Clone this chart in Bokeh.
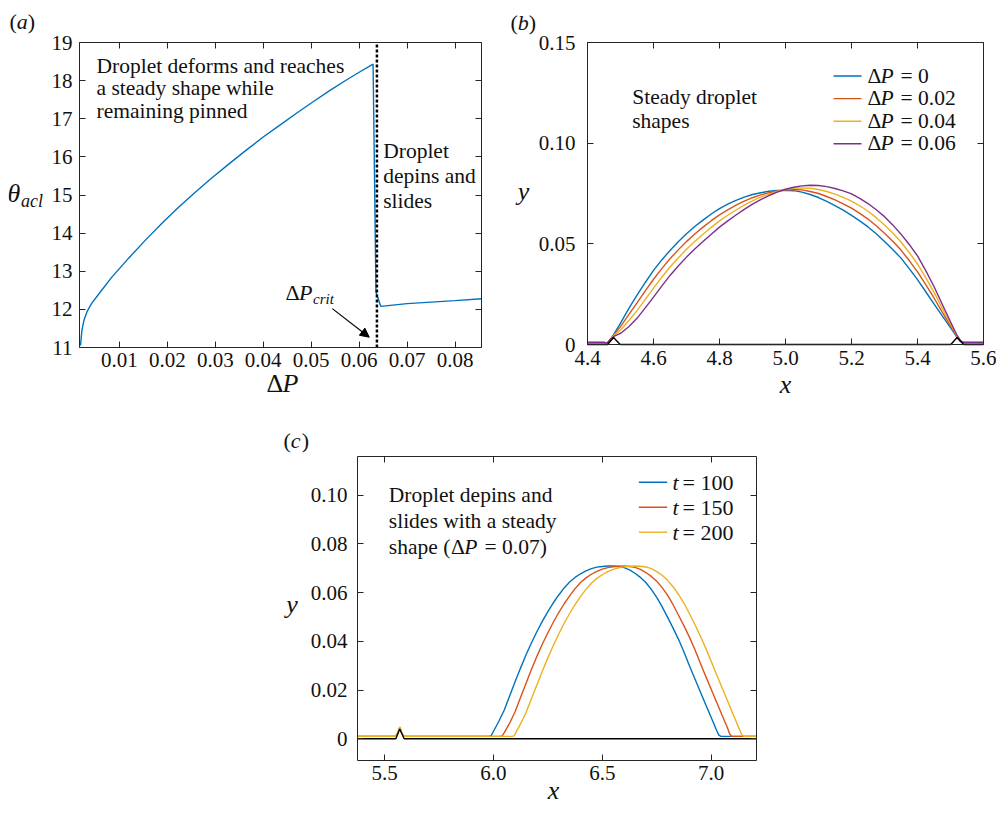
from bokeh.plotting import figure
from bokeh.models import (Range1d, LinearAxis, FixedTicker, Label, Arrow,
                          NormalHead, Spacer, BoxAnnotation)
from bokeh.layouts import row, column
from bokeh.embed import file_html
from bokeh.resources import INLINE

# ---------------- data ----------------
# panel (a): contact angle vs pressure difference
dp_a = [0.0019, 0.0022, 0.0026, 0.0033, 0.0042, 0.0060, 0.0084, 0.0120, 0.0154,
        0.0190, 0.0223, 0.0260, 0.0292, 0.0330, 0.0362, 0.0400, 0.0431, 0.0470,
        0.0501, 0.0540, 0.0570, 0.0600, 0.0629, 0.0635, 0.0645, 0.0700, 0.0800, 0.0855]
theta_a = [11.05, 11.45, 11.70, 11.95, 12.15, 12.45, 12.84, 13.35, 13.81,
           14.27, 14.67, 15.09, 15.44, 15.83, 16.15, 16.52, 16.80, 17.15,
           17.42, 17.75, 17.99, 18.22, 18.43, 12.45, 12.08, 12.15, 12.23, 12.28]
dp_crit = 0.0637
crit_arrow_start = (0.0544, 12.02)
crit_arrow_end = (0.0621, 11.27)
a_xrange = (0.0017, 0.0855)
a_yrange = (11, 19)
a_xticks = [0.01, 0.02, 0.03, 0.04, 0.05, 0.06, 0.07, 0.08]
a_xlabels = ["0.01", "0.02", "0.03", "0.04", "0.05", "0.06", "0.07", "0.08"]
a_yticks = [11, 12, 13, 14, 15, 16, 17, 18, 19]
a_ylabels = ["11", "12", "13", "14", "15", "16", "17", "18", "19"]

# panel (b): steady droplet shapes
x_b = [4.40, 4.45, 4.46, 4.47, 4.48, 4.50,
       4.525, 4.55, 4.575, 4.60, 4.625, 4.65, 4.675, 4.70, 4.725, 4.75,
       4.775, 4.80, 4.825, 4.85, 4.875, 4.90, 4.925, 4.95, 4.975, 5.00,
       5.025, 5.05, 5.075, 5.10, 5.125, 5.15, 5.175, 5.20, 5.225, 5.25,
       5.275, 5.30, 5.325, 5.35, 5.375, 5.40, 5.425, 5.45, 5.475, 5.50,
       5.52, 5.53, 5.54, 5.60]
y_b_dp0 = [.0010, .0010, .0008, .0025, .0052, .0106,
           .0178, .0245, .0308, .0368, .0420, .0467, .0510, .0550, .0586, .0618,
           .0648, .0675, .0697, .0716, .0732, .0745, .0754, .0761, .0765, .0766,
           .0764, .0757, .0745, .0730, .0711, .0690, .0667, .0641, .0614, .0584,
           .0550, .0512, .0472, .0429, .0377, .0322, .0262, .0202, .0142, .0084,
           .0036, .0015, .0010, .0010]
y_b_dp002 = [.0010, .0010, .0008, .0026, .0048, .0089,
             .0148, .0207, .0266, .0324, .0377, .0426, .0470, .0511, .0549, .0583,
             .0615, .0644, .0669, .0692, .0712, .0729, .0743, .0754, .0762, .0768,
             .0770, .0768, .0760, .0750, .0735, .0718, .0699, .0677, .0651, .0623,
             .0590, .0553, .0513, .0469, .0417, .0361, .0297, .0231, .0161, .0094,
             .0039, .0017, .0010, .0010]
y_b_dp004 = [.0010, .0010, .0008, .0027, .0044, .0072,
             .0118, .0168, .0224, .0280, .0334, .0385, .0430, .0473, .0512, .0548,
             .0582, .0614, .0642, .0668, .0692, .0713, .0732, .0747, .0760, .0770,
             .0776, .0778, .0776, .0770, .0760, .0747, .0731, .0712, .0689, .0662,
             .0630, .0594, .0554, .0509, .0457, .0400, .0332, .0260, .0181, .0103,
             .0042, .0018, .0010, .0010]
y_b_dp006 = [.0010, .0010, .0008, .0028, .0040, .0055,
             .0088, .0130, .0182, .0235, .0290, .0343, .0390, .0434, .0474, .0512,
             .0548, .0583, .0614, .0643, .0671, .0697, .0720, .0740, .0757, .0771,
             .0781, .0788, .0791, .0790, .0784, .0775, .0763, .0748, .0726, .0700,
             .0669, .0635, .0594, .0548, .0497, .0440, .0367, .0288, .0200, .0113,
             .0045, .0020, .0010, .0010]
b_labels = ["0", "0.02", "0.04", "0.06"]
sub_x_b = [4.40, 4.461, 4.479, 4.499, 5.501, 5.520, 5.540, 5.60]
sub_y_b = [0, 0, 0.0035, 0, 0, 0.0035, 0, 0]
b_xrange = (4.4, 5.6)
b_yrange = (0, 0.15)
b_xticks = [4.4, 4.6, 4.8, 5.0, 5.2, 5.4, 5.6]
b_xlabels = ["4.4", "4.6", "4.8", "5.0", "5.2", "5.4", "5.6"]
b_yticks = [0, 0.05, 0.1, 0.15]
b_ylabels = ["0", "0.05", "0.10", "0.15"]

# panel (c): sliding droplet at three times
x_c_t100 = [5.375, 5.55, 5.56, 5.57, 5.58, 5.59, 5.98,
            5.99, 6.00, 6.025, 6.05, 6.075, 6.10, 6.125, 6.15, 6.175, 6.20,
            6.225, 6.25, 6.275, 6.30, 6.325, 6.35, 6.375, 6.40, 6.425, 6.45,
            6.475, 6.50, 6.525, 6.55, 6.575, 6.60, 6.625, 6.65, 6.675, 6.70,
            6.725, 6.75, 6.775, 6.80, 6.825, 6.85, 6.875, 6.90, 6.925, 6.95,
            6.975, 7.00, 7.025, 7.035, 7.045, 7.21]
y_c_t100 = [.0010, .0010, .0022, .0045, .0022, .0010, .0010,
            .0013, .0030, .0072, .0118, .0177, .0235, .0291, .0345, .0394, .0440,
            .0483, .0522, .0558, .0590, .0619, .0643, .0662, .0677, .0689, .0698,
            .0704, .0707, .0709, .0709, .0707, .0702, .0693, .0679, .0662, .0641,
            .0613, .0580, .0541, .0498, .0454, .0408, .0356, .0300, .0246, .0193,
            .0140, .0087, .0034, .0015, .0010, .0010]
x_c_t150 = [5.375, 5.55, 5.56, 5.57, 5.58, 5.59, 6.03,
            6.04, 6.05, 6.075, 6.10, 6.125, 6.15, 6.175, 6.20, 6.225, 6.25,
            6.275, 6.30, 6.325, 6.35, 6.375, 6.40, 6.425, 6.45, 6.475, 6.50,
            6.525, 6.55, 6.575, 6.60, 6.625, 6.65, 6.675, 6.70, 6.725, 6.75,
            6.775, 6.80, 6.825, 6.85, 6.875, 6.90, 6.925, 6.95, 6.975, 7.00,
            7.025, 7.05, 7.075, 7.085, 7.095, 7.21]
y_c_t150 = [.0010, .0010, .0022, .0046, .0022, .0010, .0010,
            .0012, .0025, .0065, .0112, .0170, .0228, .0285, .0339, .0389, .0435,
            .0478, .0518, .0554, .0586, .0616, .0641, .0660, .0675, .0687, .0696,
            .0702, .0706, .0708, .0709, .0707, .0703, .0695, .0682, .0666, .0646,
            .0620, .0588, .0550, .0507, .0463, .0417, .0366, .0311, .0256, .0203,
            .0150, .0097, .0044, .0020, .0010, .0010]
x_c_t200 = [5.375, 5.55, 5.56, 5.57, 5.58, 5.59, 6.085,
            6.095, 6.10, 6.125, 6.15, 6.175, 6.20, 6.225, 6.25, 6.275, 6.30,
            6.325, 6.35, 6.375, 6.40, 6.425, 6.45, 6.475, 6.50, 6.525, 6.55,
            6.575, 6.60, 6.625, 6.65, 6.675, 6.70, 6.725, 6.75, 6.775, 6.80,
            6.825, 6.85, 6.875, 6.90, 6.925, 6.95, 6.975, 7.00, 7.025, 7.05,
            7.075, 7.10, 7.125, 7.14, 7.15, 7.21]
y_c_t200 = [.0010, .0010, .0024, .0050, .0024, .0010, .0010,
            .0012, .0020, .0062, .0108, .0165, .0222, .0278, .0332, .0383, .0430,
            .0474, .0514, .0550, .0583, .0613, .0638, .0658, .0673, .0686, .0695,
            .0701, .0706, .0708, .0709, .0708, .0705, .0698, .0686, .0671, .0650,
            .0624, .0592, .0556, .0514, .0469, .0422, .0372, .0318, .0263, .0209,
            .0156, .0102, .0049, .0018, .0010, .0010]
c_labels = ["100", "150", "200"]
sub_x_c = [5.375, 5.552, 5.570, 5.590, 7.21]
sub_y_c = [0, 0, 0.0040, 0, 0]
c_xrange = (5.376, 7.208)
c_yrange = (-0.0089, 0.1158)
c_xticks = [5.5, 6.0, 6.5, 7.0]
c_xlabels = ["5.5", "6.0", "6.5", "7.0"]
c_yticks = [0, 0.02, 0.04, 0.06, 0.08, 0.1]
c_ylabels = ["0", "0.02", "0.04", "0.06", "0.08", "0.10"]

# ---------------- style ----------------
SERIF = "Liberation Serif"
AX = "#262626"
TXT = "#111111"
BLUE, RED, YELLOW, PURPLE = "#0072BD", "#D95319", "#EDB120", "#7E2F8E"
LW = 1.4
BASELINE_FIX = 0.30   # em; the alphabetic baseline lands this much lower than asked


def style_axis(ax, ticks, labels, standoff, loc):
    ax.fixed_location = loc
    ax.ticker = FixedTicker(ticks=ticks)
    ax.major_label_overrides = {t: l for t, l in zip(ticks, labels)}
    ax.major_tick_in = 6
    ax.major_tick_out = 0
    ax.minor_tick_line_color = None
    ax.axis_line_color = None
    ax.major_tick_line_color = AX
    ax.major_label_text_font = SERIF
    ax.major_label_text_font_size = "21px"
    ax.major_label_text_color = TXT
    ax.major_label_standoff = standoff


def mirror(p, ticks, side, loc):
    ax = LinearAxis(ticker=FixedTicker(ticks=ticks), major_tick_in=6, major_tick_out=0,
                    minor_tick_line_color=None, major_label_text_font_size="0px",
                    major_label_text_color=None, major_label_standoff=0,
                    axis_line_color=None, major_tick_line_color=AX, fixed_location=loc)
    p.add_layout(ax, side)


class Panel:
    """A figure whose whole canvas is the frame; the axes box sits at pixel box."""

    def __init__(self, width, height, box, xr, yr, xt, xl, yt, yl, xstand, ystand):
        L, R, T, B = box
        self.L, self.H, self.B = L, height, B
        sx = (xr[1] - xr[0]) / (R - L)
        sy = (yr[1] - yr[0]) / (B - T)
        x_range = Range1d(xr[0] - L * sx, xr[1] + (width - R) * sx)
        y_range = Range1d(yr[0] - (height - B) * sy, yr[1] + T * sy)
        p = figure(width=width, height=height, x_range=x_range, y_range=y_range,
                   output_backend="svg", toolbar_location=None, title=None,
                   min_border=0, min_border_left=0, min_border_right=0,
                   min_border_top=0, min_border_bottom=0)
        p.xgrid.visible = False
        p.ygrid.visible = False
        p.outline_line_color = None
        p.background_fill_color = "white"
        p.border_fill_color = "white"
        style_axis(p.xaxis[0], xt, xl, xstand, yr[0])
        style_axis(p.yaxis[0], yt, yl, ystand, xr[0])
        mirror(p, yt, "right", xr[1])
        mirror(p, xt, "above", yr[1])
        p.add_layout(BoxAnnotation(left=xr[0], right=xr[1], bottom=yr[0], top=yr[1],
                                   fill_color=None, line_color=AX, line_width=1,
                                   line_alpha=1))
        self.p = p

    def txt(self, x, y, s, size="21.5px", style="normal", align="left"):
        # x, y in pixels relative to the bottom-left corner of the axes box
        fix = BASELINE_FIX * float(size[:-2])
        self.p.add_layout(Label(x=self.L + x, y=(self.H - self.B) + y + fix,
                                x_units="screen", y_units="screen", text=s,
                                text_font=SERIF, text_font_size=size,
                                text_font_style=style, text_align=align,
                                text_baseline="alphabetic", text_color=TXT))

    def legend_line(self, x0, x1, y, color):
        ox, oy = self.L, self.H - self.B
        self.p.add_layout(Arrow(start=None, end=None, x_start=ox + x0, y_start=oy + y,
                                x_end=ox + x1, y_end=oy + y,
                                start_units="screen", end_units="screen",
                                line_color=color, line_width=LW))

    def tag(self, x, y, letter):
        self.txt(x, y, "(", size="22px")
        self.txt(x + 7.3, y, letter, size="22px", style="italic")
        self.txt(x + 7.3 + 11, y, ")", size="22px")


# ---------------- panel (a) ----------------
A = Panel(492, 392, (71, 473, 34, 339), a_xrange, a_yrange,
          a_xticks, a_xlabels, a_yticks, a_ylabels, 5, 7)
pa = A.p
pa.line(dp_a, theta_a, line_color=BLUE, line_width=LW)
pa.segment(x0=[dp_crit], y0=[a_yrange[0]], x1=[dp_crit], y1=[a_yrange[1]],
           line_color="black", line_width=2.5, line_dash="3 2")
pa.add_layout(Arrow(end=NormalHead(size=9, fill_color="black", line_color="black"),
                    x_start=crit_arrow_start[0], y_start=crit_arrow_start[1],
                    x_end=crit_arrow_end[0], y_end=crit_arrow_end[1],
                    line_color="black", line_width=1.2))
A.tag(-70, 319, "a")
A.txt(-72, 146, "θ", size="26px", style="italic")
A.txt(-58.5, 141, "acl", size="18px", style="italic")
A.txt(187, -44, "Δ", size="26px")
A.txt(203, -44, "P", size="26px", style="italic")
for i, line in enumerate(["Droplet deforms and reaches", "a steady shape while",
                          "remaining pinned"]):
    A.txt(17, 275.3 - 22.5 * i, line)
for i, line in enumerate(["Droplet", "depins and", "slides"]):
    A.txt(303.7, 190.3 - 25 * i, line)
A.txt(206, 48.7, "Δ", size="22px")
A.txt(219.5, 48.7, "P", size="22px", style="italic")
A.txt(233.5, 44, "crit", size="15px", style="italic")

# ---------------- panel (b) ----------------
Bp = Panel(496, 392, (87, 483, 34, 336), b_xrange, b_yrange,
           b_xticks, b_xlabels, b_yticks, b_ylabels, 6, 12)
pb = Bp.p
b_series = [y_b_dp0, y_b_dp002, y_b_dp004, y_b_dp006]
b_colors = [BLUE, RED, YELLOW, PURPLE]
for ys, c in zip(b_series, b_colors):
    pb.line(x_b, ys, line_color=c, line_width=LW)
pb.line(sub_x_b, sub_y_b, line_color="black", line_width=LW)
Bp.tag(-77, 315.7, "b")
Bp.txt(-64, 145, "y", size="26px", style="italic", align="center")
Bp.txt(198, -48, "x", size="26px", style="italic", align="center")
Bp.txt(44.7, 240.7, "Steady droplet")
Bp.txt(44.7, 217.3, "shapes")
for i, (lab, c) in enumerate(zip(b_labels, b_colors)):
    yc = 268.5 - 22.6 * i
    Bp.legend_line(246, 274, yc, c)
    Bp.txt(280, yc - 6, "Δ")
    Bp.txt(293, yc - 6, "P", style="italic")
    Bp.txt(313, yc - 6, "= " + lab)

# ---------------- panel (c) ----------------
C = Panel(520, 406, (107, 506, 56, 360), c_xrange, c_yrange,
          c_xticks, c_xlabels, c_yticks, c_ylabels, 5, 10)
pc = C.p
c_x = [x_c_t100, x_c_t150, x_c_t200]
c_y = [y_c_t100, y_c_t150, y_c_t200]
c_colors = [BLUE, RED, YELLOW]
for xs, ys, c in zip(c_x, c_y, c_colors):
    pc.line(xs, ys, line_color=c, line_width=LW)
pc.line(sub_x_c, sub_y_c, line_color="black", line_width=LW)
C.tag(-74, 313.3, "c")
C.txt(-65.5, 148, "y", size="26px", style="italic", align="center")
C.txt(196, -38, "x", size="26px", style="italic", align="center")
C.txt(31.3, 259, "Droplet depins and")
C.txt(31.3, 233.3, "slides with a steady")
C.txt(31.3, 207.3, "shape (")
C.txt(93.5, 207.3, "Δ")
C.txt(106.7, 207.3, "P", style="italic")
C.txt(127, 207.3, "= 0.07)")
for i, (lab, c) in enumerate(zip(c_labels, c_colors)):
    yc = 278.3 - 25 * i
    C.legend_line(281.3, 309.7, yc, c)
    C.txt(315, yc - 6.6, "t", size="22px", style="italic")
    C.txt(325, yc - 6.6, "= " + lab, size="22px")

content = column(row(pa, pb), row(Spacer(width=242, height=406), pc))
layout = column(Spacer(width=996, height=8), row(Spacer(width=8, height=798), content))
open("out.html", "w").write(file_html(layout, INLINE, title="droplet"))
